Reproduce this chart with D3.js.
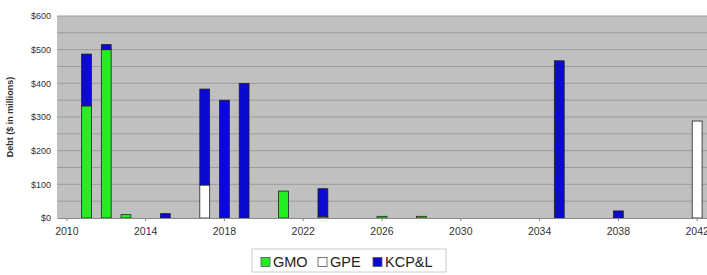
<!DOCTYPE html>
<html>
<head>
<meta charset="utf-8">
<script src="https://cdn.jsdelivr.net/npm/d3@7"></script>
<style>
  body { margin: 0; background: #fff; overflow: hidden; }
  text { font-family: Arial, "Liberation Sans", sans-serif; }
</style>
</head>
<body>
<svg id="chart" width="707" height="275"></svg>
<script>
// data (in $ millions)
const years = d3.range(2010, 2043).map(String);
const tickYears = ["2010", "2014", "2018", "2022", "2026", "2030", "2034", "2038", "2042"];
const seriesNames = ["GMO", "GPE", "KCP&L"];
const gmo  = { "2011": 333, "2012": 500, "2013": 10, "2021": 80, "2023": 5, "2026": 5, "2028": 5 };
const gpe  = { "2017": 98, "2042": 288 };
const kcpl = { "2011": 154, "2012": 15, "2015": 13, "2017": 285, "2018": 350, "2019": 400, "2023": 82, "2035": 467, "2038": 21 };
const yTicks = [0, 100, 200, 300, 400, 500, 600];

const colors = { "GMO": "#22ee22", "GPE": "#ffffff", "KCP&L": "#0a0ad2" };

const rows = years.map(y => ({
  year: y,
  "GMO": gmo[y] || 0,
  "GPE": gpe[y] || 0,
  "KCP&L": kcpl[y] || 0
}));

const margin = { top: 16, right: 0, bottom: 57, left: 57 };
const width = 707 - margin.left - margin.right;
const height = 275 - margin.top - margin.bottom;

const svg = d3.select("#chart");
const g = svg.append("g").attr("transform", `translate(${margin.left},${margin.top})`);

const x = d3.scaleBand().domain(years).range([0, width]).paddingInner(0.5).paddingOuter(0.25);
const y = d3.scaleLinear().domain([0, 600]).range([height, 0]);

// plot background
g.append("rect")
  .attr("width", width).attr("height", height)
  .attr("fill", "#c0c0c0");

// gridlines every $50
g.append("g")
  .selectAll("line")
  .data(d3.range(50, 601, 50))
  .join("line")
  .attr("x1", 0).attr("x2", width)
  .attr("y1", d => y(d)).attr("y2", d => y(d))
  .attr("stroke", "#9c9c9c")
  .attr("stroke-width", 1);

// stacked bars
const stack = d3.stack().keys(seriesNames)(rows);
g.append("g")
  .selectAll("g")
  .data(stack)
  .join("g")
  .attr("fill", d => colors[d.key])
  .selectAll("rect")
  .data(d => d.filter(p => p[1] - p[0] > 0))
  .join("rect")
  .attr("x", d => x(d.data.year))
  .attr("y", d => y(d[1]))
  .attr("width", x.bandwidth())
  .attr("height", d => y(d[0]) - y(d[1]))
  .attr("stroke", "#222")
  .attr("stroke-width", 0.8);

// x axis
const xAxis = g.append("g")
  .attr("transform", `translate(0,${height})`)
  .call(d3.axisBottom(x).tickValues(tickYears).tickSize(3).tickSizeOuter(0));
xAxis.select(".domain").attr("stroke", "#888");
xAxis.selectAll(".tick line").attr("stroke", "#888");
xAxis.selectAll("text").attr("font-size", 10.5).attr("fill", "#333").attr("dy", "1.05em");

// y axis
const yAxis = g.append("g")
  .call(d3.axisLeft(y).tickValues(yTicks).tickSize(0).tickPadding(6).tickFormat(d => "$" + d));
yAxis.select(".domain").remove();
yAxis.selectAll("text").attr("font-size", 9).attr("fill", "#333");

// y title
svg.append("text")
  .attr("transform", `translate(13,${margin.top + height / 2}) rotate(-90)`)
  .attr("text-anchor", "middle")
  .attr("font-size", 9)
  .attr("font-weight", "bold")
  .attr("fill", "#333")
  .text("Debt ($ in millions)");

// legend
const legend = svg.append("g").attr("transform", "translate(252,249)");
legend.append("rect")
  .attr("width", 194).attr("height", 23)
  .attr("fill", "#fff").attr("stroke", "#ccc");
const legendX = [9, 66, 121];
seriesNames.forEach((name, i) => {
  const item = legend.append("g").attr("transform", `translate(${legendX[i]},6)`);
  item.append("rect")
    .attr("y", 2.5).attr("width", 9).attr("height", 9)
    .attr("fill", colors[name]).attr("stroke", "#555").attr("stroke-width", 0.8);
  item.append("text")
    .attr("x", 12).attr("y", 12)
    .attr("font-size", 14.5)
    .attr("fill", "#222")
    .text(name);
});
</script>
</body>
</html>
